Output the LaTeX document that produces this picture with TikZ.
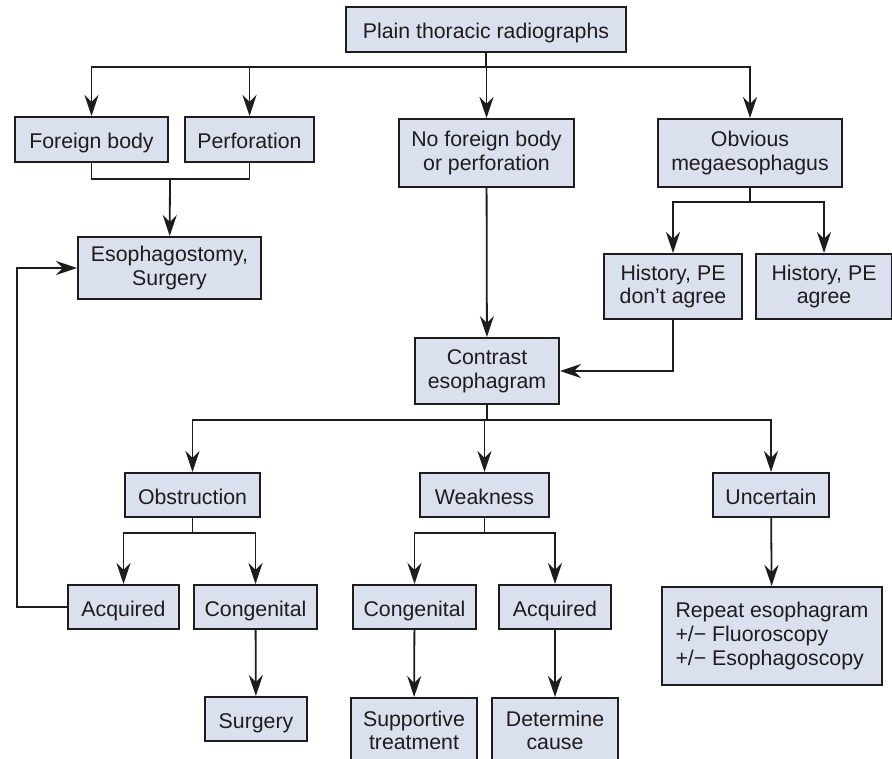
\documentclass[tikz,border=0pt]{standalone}
\usepackage{fontspec}
\setmainfont{Liberation Sans}
\usepackage{tikz}
\usetikzlibrary{arrows.meta}

\definecolor{boxfill}{RGB}{219,224,238}
\definecolor{ink}{RGB}{30,28,29}

\tikzset{
    box/.style={draw=ink, fill=boxfill, line width=2pt, align=center, inner sep=0pt, text=ink},
    oneline/.style={box, text height=18pt, text depth=0pt},
    link/.style={draw=ink, line width=1.8pt},
    tip/.style={link, -{Stealth[length=21pt, width=14pt, inset=7pt]}}
}

\begin{document}
\begin{tikzpicture}[x=1pt, y=-1pt, font=\fontsize{21.3}{23.7}\selectfont]
                \useasboundingbox (0, 0) rectangle (892, 759);

                \node[oneline, minimum width=280, minimum height=45] (plain) at (486, 29.5) {Plain thoracic radiographs};
                \node[oneline, minimum width=153, minimum height=45] (fb) at (91.5, 139.5) {Foreign body};
                \node[oneline, minimum width=129, minimum height=45] (perf) at (249.5, 139.5) {Perforation};
                \node[box, minimum width=175, minimum height=68] (nofb) at (486.5, 153) {No foreign body\\or perforation};
                \node[box, minimum width=184, minimum height=68] (mega) at (750, 153) {Obvious\\megaesophagus};
                \node[box, minimum width=183, minimum height=62] (esoph) at (169.5, 268) {Esophagostomy,\\Surgery};
                \node[box, minimum width=138, minimum height=65] (hdis) at (673, 286.5) {History, PE\\don’t agree};
                \node[box, minimum width=136, minimum height=65] (hagr) at (824, 286.5) {History, PE\\agree};
                \node[box, minimum width=144, minimum height=66] (contrast) at (487, 371) {Contrast\\esophagram};
                \node[oneline, minimum width=135, minimum height=44] (obst) at (192.5, 495) {Obstruction};
                \node[oneline, minimum width=129, minimum height=44] (weak) at (484.5, 495) {Weakness};
                \node[oneline, minimum width=116, minimum height=44] (unc) at (771, 495) {Uncertain};
                \node[oneline, minimum width=111, minimum height=44] (acqo) at (123.5, 607) {Acquired};
                \node[oneline, minimum width=123, minimum height=44] (congo) at (255.5, 607) {Congenital};
                \node[oneline, minimum width=123, minimum height=44] (congw) at (414.5, 607) {Congenital};
                \node[oneline, minimum width=112, minimum height=44] (acqw) at (555, 607) {Acquired};
                \node[box, minimum width=220, minimum height=98, align=left] (repeat) at (772, 636) {Repeat esophagram\\+/− Fluoroscopy\\+/− Esophagoscopy};
                \node[oneline, minimum width=102, minimum height=44] (surg) at (256, 719) {Surgery};
                \node[box, minimum width=126, minimum height=65] (supp) at (414, 730.5) {Supportive\\treatment};
                \node[box, minimum width=126, minimum height=65] (det) at (555, 730.5) {Determine\\cause};

                \coordinate (j1) at (486, 67);
                \coordinate (j2) at (170, 179);
                \coordinate (j3) at (750, 202);
                \coordinate (j4) at (487, 420);
                \coordinate (j5) at (192.5, 533);
                \coordinate (j6) at (484.5, 533);
                \coordinate (back) at (17, 607);

                \draw[link] (plain) -- (j1);
                \foreach \n in {fb, perf, nofb, mega} {
                    \draw[tip] (j1) -| (\n);
                }
                \draw[link] (fb) |- (j2);
                \draw[link] (perf) |- (j2);
                \draw[tip] (j2) -- (esoph);
                \draw[link] (mega) -- (j3);
                \draw[tip] (j3) -| (hdis);
                \draw[tip] (j3) -| (hagr);
                \draw[tip] (nofb) -- (contrast);
                \draw[tip] (hdis) |- (contrast);
                \draw[link] (contrast) -- (j4);
                \foreach \n in {obst, weak, unc} {
                    \draw[tip] (j4) -| (\n);
                }
                \draw[link] (obst) -- (j5);
                \draw[tip] (j5) -| (acqo);
                \draw[tip] (j5) -| (congo);
                \draw[link] (weak) -- (j6);
                \draw[tip] (j6) -| (congw);
                \draw[tip] (j6) -| (acqw);
                \draw[tip] (unc) -- (repeat);
                \draw[tip] (congo) -- (surg);
                \draw[tip] (congw) -- (supp);
                \draw[tip] (acqw) -- (det);
                \draw[tip] (acqo) -- (back) |- (esoph);
            \end{tikzpicture}
\end{document}
